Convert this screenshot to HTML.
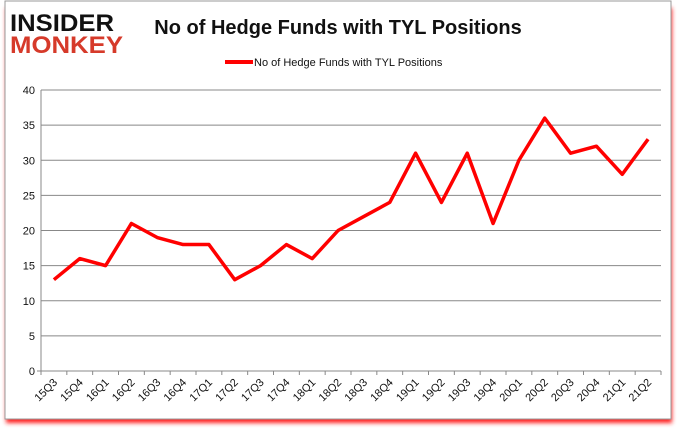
<!DOCTYPE html>
<html><head><meta charset="utf-8"><style>
body{margin:0;background:#fff;width:678px;height:431px;overflow:hidden;font-family:"Liberation Sans",sans-serif}
</style></head><body>
<svg width="678" height="431" viewBox="0 0 678 431">
<defs><filter id="sh" x="-5%" y="-5%" width="110%" height="115%"><feGaussianBlur stdDeviation="2"/></filter></defs>
<rect x="6" y="8" width="666" height="415" fill="#ff2020" filter="url(#sh)"/>
<rect x="5" y="1" width="666" height="418" fill="#fff" stroke="#999"/>
<g font-family="'Liberation Sans',sans-serif" font-weight="bold">
<text x="10" y="31" font-size="24" fill="#111" textLength="104" lengthAdjust="spacingAndGlyphs">INSIDER</text>
<text x="10" y="53" font-size="24" fill="#d63a2a" textLength="113" lengthAdjust="spacingAndGlyphs">MONKEY</text>
</g>
<text x="338" y="34" text-anchor="middle" font-size="20" font-weight="bold" fill="#111">No of Hedge Funds with TYL Positions</text>
<line x1="225" y1="62" x2="253" y2="62" stroke="#f00" stroke-width="4"/>
<text x="254" y="66" font-size="11" fill="#111">No of Hedge Funds with TYL Positions</text>
<g id="grid"></g><g id="axes"></g><g id="series"></g>
</svg>
<script>
const categories=["15Q3","15Q4","16Q1","16Q2","16Q3","16Q4","17Q1","17Q2","17Q3","17Q4","18Q1","18Q2","18Q3","18Q4","19Q1","19Q2","19Q3","19Q4","20Q1","20Q2","20Q3","20Q4","21Q1","21Q2"];
const values=[13,16,15,21,19,18,18,13,15,18,16,20,22,24,31,24,31,21,30,36,31,32,28,33];
const yTicks=[0,5,10,15,20,25,30,35,40];
const NS="http://www.w3.org/2000/svg";
const L=41,R=661,T=90,B=371,yMax=40;
const band=(R-L)/categories.length;
const xs=i=>L+band*(i+0.5);
const ys=v=>B-(v/yMax)*(B-T);
function mk(t,a,p){const e=document.createElementNS(NS,t);for(const k in a)e.setAttribute(k,a[k]);p.appendChild(e);return e;}
const grid=document.getElementById('grid'),axes=document.getElementById('axes'),ser=document.getElementById('series');
yTicks.forEach(v=>{
 const y=ys(v);
 if(v>0){const g=mk('line',{x1:L,x2:R,y1:y,y2:y,stroke:'#888','stroke-width':1},grid);
 
 }
 const t=mk('text',{x:L-6,y:y+4,'text-anchor':'end','font-size':11,fill:'#111'},axes);t.textContent=v;
 
 
});
const ya=mk('line',{x1:L,x2:L,y1:T,y2:B+4,stroke:'#888'},axes);


const xa=mk('line',{x1:L-4,x2:R,y1:B,y2:B,stroke:'#888'},axes);


categories.forEach((c,i)=>{
 const tx=L+band*(i+1);
 const tk=mk('line',{x1:tx,x2:tx,y1:B,y2:B+4,stroke:'#888'},axes);
 
 
 const x=xs(i)+4,y=B+12;
 const t=mk('text',{x:x,y:y,'text-anchor':'end','font-size':11,fill:'#111',transform:`rotate(-45 ${x} ${y})`},axes);t.textContent=c;
 
 
});
const pl=mk('polyline',{points:values.map((v,i)=>xs(i)+','+ys(v)).join(' '),fill:'none',stroke:'#f00','stroke-width':3.5,'stroke-linejoin':'round'},ser);


</script>
</body></html>
